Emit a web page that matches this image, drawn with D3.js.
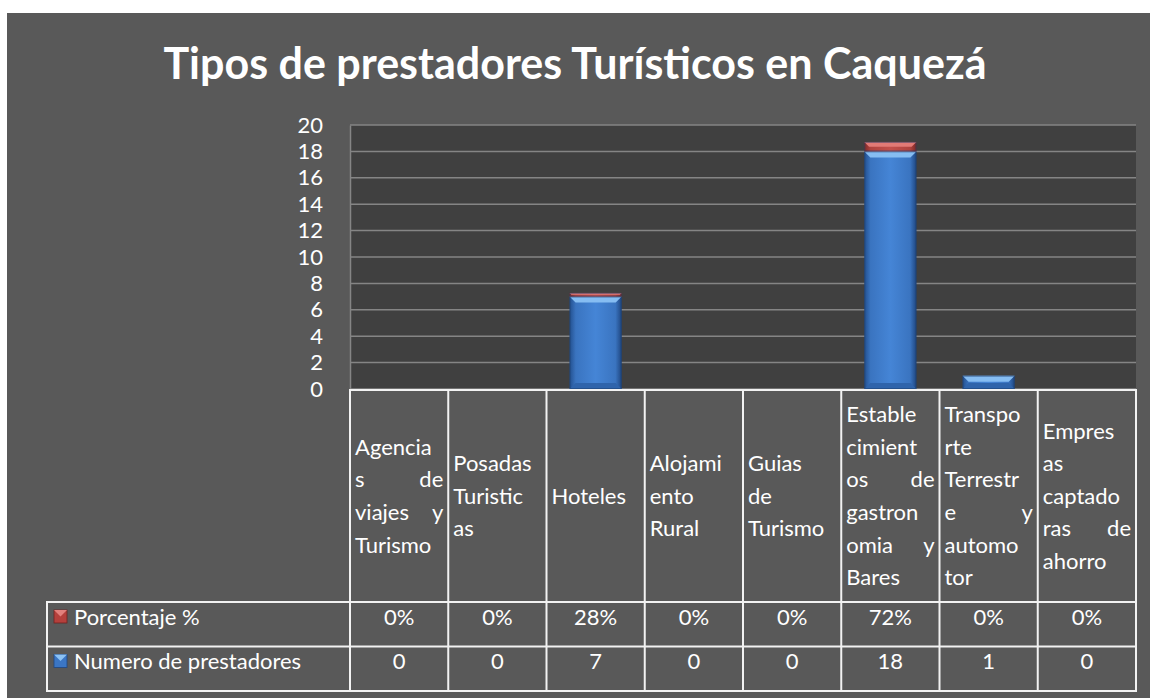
<!DOCTYPE html>
<html>
<head>
<meta charset="utf-8">
<script src="https://cdn.jsdelivr.net/npm/d3@7"></script>
<style>
  html, body { margin: 0; padding: 0; background: #ffffff; }
  svg { display: block; font-family: Lato, "Open Sans", sans-serif; }
</style>
</head>
<body>
<svg></svg>
<script>
// category labels, already broken into lines as in the data table
const categoryLines = [
  ["Agencia", "s de", "viajes y", "Turismo"],
  ["Posadas", "Turistic", "as"],
  ["Hoteles"],
  ["Alojami", "ento", "Rural"],
  ["Guias", "de", "Turismo"],
  ["Estable", "cimient", "os de", "gastron", "omia y", "Bares"],
  ["Transpo", "rte", "Terrestr", "e y", "automo", "tor"],
  ["Empres", "as", "captado", "ras de", "ahorro"]
];
const numeroPrestadores = [0, 0, 7, 0, 0, 18, 1, 0];
const porcentaje = [0, 0, 0.28, 0, 0, 0.72, 0, 0];
const yTicks = [0, 2, 4, 6, 8, 10, 12, 14, 16, 18, 20];
const seriesNames = ["Porcentaje %", "Numero de prestadores"];

const width = 1150, height = 698;
const svg = d3.select("svg")
  .attr("width", width)
  .attr("height", height);

// layout
const plot = { left: 350, right: 1136, top: 125, bottom: 389 };
const table = { left: 47, headTop: 390, headBottom: 602, rowH: 44.5 };
const lineH = 32.6;
const fs = 22;

const x = d3.scaleBand()
  .domain(d3.range(categoryLines.length))
  .range([plot.left, plot.right]);
const y = d3.scaleLinear()
  .domain([0, 20])
  .range([plot.bottom, plot.top]);
const fmtPct = d3.format(".0%");

// gradients for the bevelled bars
const defs = svg.append("defs");
function barGradient(id, stops) {
  const g = defs.append("linearGradient").attr("id", id)
    .attr("x1", 0).attr("x2", 1).attr("y1", 0).attr("y2", 0);
  stops.forEach(s => g.append("stop").attr("offset", s[0]).attr("stop-color", s[1]));
}
barGradient("blueBody", [[0, "#23508f"], [0.12, "#3a74c0"], [0.5, "#4585d6"], [0.88, "#3a74c0"], [1, "#1f4680"]]);
barGradient("redBody", [[0, "#7e2a28"], [0.12, "#b0433f"], [0.5, "#c4504c"], [0.88, "#b0433f"], [1, "#7a2725"]]);

// backgrounds
svg.append("rect")
  .attr("x", 7).attr("y", 13)
  .attr("width", width - 7).attr("height", height - 13)
  .attr("fill", "#595959");

svg.append("rect")
  .attr("x", plot.left).attr("y", plot.top)
  .attr("width", plot.right - plot.left).attr("height", plot.bottom - plot.top)
  .attr("fill", "#404040");

// title
svg.append("text")
  .attr("x", 575).attr("y", 79)
  .attr("text-anchor", "middle")
  .attr("fill", "#ffffff")
  .attr("font-weight", "bold")
  .attr("font-size", 43)
  .text("Tipos de prestadores Turísticos en Caquezá");

// gridlines
svg.append("g")
  .selectAll("line")
  .data(yTicks)
  .join("line")
    .attr("x1", plot.left).attr("x2", plot.right)
    .attr("y1", d => y(d)).attr("y2", d => y(d))
    .attr("stroke", "#858585")
    .attr("stroke-width", 1.5);

// y axis
const yAxis = svg.append("g")
  .attr("transform", `translate(${plot.left},0)`)
  .call(d3.axisLeft(y).tickValues(yTicks).tickSize(0).tickPadding(27));
yAxis.select(".domain").attr("stroke", "#858585").attr("stroke-width", 1.5);
yAxis.selectAll("text")
  .attr("fill", "#ffffff")
  .attr("font-size", fs)
  .attr("font-family", "Lato, 'Open Sans', sans-serif");

// bars
const barW = x.bandwidth() * 0.53;
const bars = svg.append("g")
  .selectAll("g")
  .data(numeroPrestadores.map((v, i) => ({ i, v, p: porcentaje[i] })))
  .join("g")
    .attr("transform", d => `translate(${x(d.i) + (x.bandwidth() - barW) / 2},0)`);

function drawSegment(sel, y0, y1, body, topC, botC) {
  sel.each(function(d) {
    const top = y(y1(d)), bot = y(y0(d));
    const h = bot - top;
    if (h <= 0.5) return;
    const g = d3.select(this);
    const bev = Math.min(6, h / 2);
    g.append("rect")
      .attr("x", 0).attr("y", top)
      .attr("width", barW).attr("height", h)
      .attr("fill", body);
    g.append("path")
      .attr("d", `M0,${top}H${barW}L${barW - bev},${top + bev}H${bev}Z`)
      .attr("fill", topC);
    if (botC) {
      g.append("path")
        .attr("d", `M0,${bot}H${barW}L${barW - bev},${bot - bev}H${bev}Z`)
        .attr("fill", botC);
    }
    g.append("rect")
      .attr("x", 0.5).attr("y", top + 0.5)
      .attr("width", barW - 1).attr("height", h - 1)
      .attr("fill", "none")
      .attr("stroke", "#1c3d6e")
      .attr("stroke-opacity", 0.5);
  });
}
drawSegment(bars, d => 0, d => d.v, "url(#blueBody)", "#86bdf2", "#2f64ab");
drawSegment(bars, d => d.v, d => d.v + d.p, "url(#redBody)", "#e27a76", null);

// data table
const tbl = svg.append("g");
const rowTops = [table.headBottom, table.headBottom + table.rowH];
const tableBottom = table.headBottom + 2 * table.rowH;

// header category labels
categoryLines.forEach((lines, i) => {
  const cx0 = x(i) + 5, cx1 = x(i) + x.bandwidth() - 5;
  const mid = (table.headTop + table.headBottom) / 2;
  const start = mid - (lines.length - 1) / 2 * lineH;
  lines.forEach((ln, j) => {
    const yy = start + j * lineH;
    const words = ln.split(" ");
    const t = tbl.append("g").attr("fill", "#ffffff").attr("font-size", fs);
    if (words.length > 1) {
      t.append("text").attr("x", cx0).attr("y", yy).attr("dy", "0.35em").text(words[0]);
      t.append("text").attr("x", cx1).attr("y", yy).attr("dy", "0.35em")
        .attr("text-anchor", "end").text(words[words.length - 1]);
    } else {
      t.append("text").attr("x", cx0).attr("y", yy).attr("dy", "0.35em").text(ln);
    }
  });
});

// value rows
const rowValues = [porcentaje.map(fmtPct), numeroPrestadores.map(String)];
rowValues.forEach((vals, r) => {
  const ty = rowTops[r] + 15;
  tbl.append("g")
    .selectAll("text")
    .data(vals)
    .join("text")
      .attr("x", (d, i) => x(i) + x.bandwidth() / 2)
      .attr("y", ty).attr("dy", "0.35em")
      .attr("text-anchor", "middle")
      .attr("fill", "#ffffff")
      .attr("font-size", fs)
      .text(d => d);
});

// legend keys in the row headers
const keyStyles = [
  { body: "#b5403c", top: "#e3807c", edge: "#6f2220" },
  { body: "#3b76c4", top: "#8cc2f4", edge: "#1f4680" }
];
seriesNames.forEach((name, r) => {
  const ky = rowTops[r] + 8;
  const k = keyStyles[r];
  tbl.append("rect").attr("x", 54).attr("y", ky).attr("width", 13).attr("height", 13)
    .attr("fill", k.body).attr("stroke", k.edge).attr("stroke-width", 0.8);
  tbl.append("path")
    .attr("d", `M54,${ky}H67L60.5,${ky + 6.5}Z`)
    .attr("fill", k.top);
  tbl.append("text")
    .attr("x", 74).attr("y", rowTops[r] + 15).attr("dy", "0.35em")
    .attr("fill", "#ffffff")
    .attr("font-size", fs)
    .text(name);
});

// table grid lines
const gridLines = [];
gridLines.push([plot.left, table.headTop, plot.right, table.headTop]);
[table.headBottom, table.headBottom + table.rowH, tableBottom].forEach(yy =>
  gridLines.push([table.left, yy, plot.right, yy]));
gridLines.push([table.left, table.headBottom, table.left, tableBottom]);
d3.range(categoryLines.length + 1).forEach(i => {
  const xx = i < categoryLines.length ? x(i) : plot.right;
  gridLines.push([xx, table.headTop, xx, tableBottom]);
});
tbl.append("g")
  .selectAll("line")
  .data(gridLines)
  .join("line")
    .attr("x1", d => d[0]).attr("y1", d => d[1])
    .attr("x2", d => d[2]).attr("y2", d => d[3])
    .attr("stroke", "#f2f2f2")
    .attr("stroke-width", 2)
    .attr("stroke-linecap", "square");
</script>
</body>
</html>
